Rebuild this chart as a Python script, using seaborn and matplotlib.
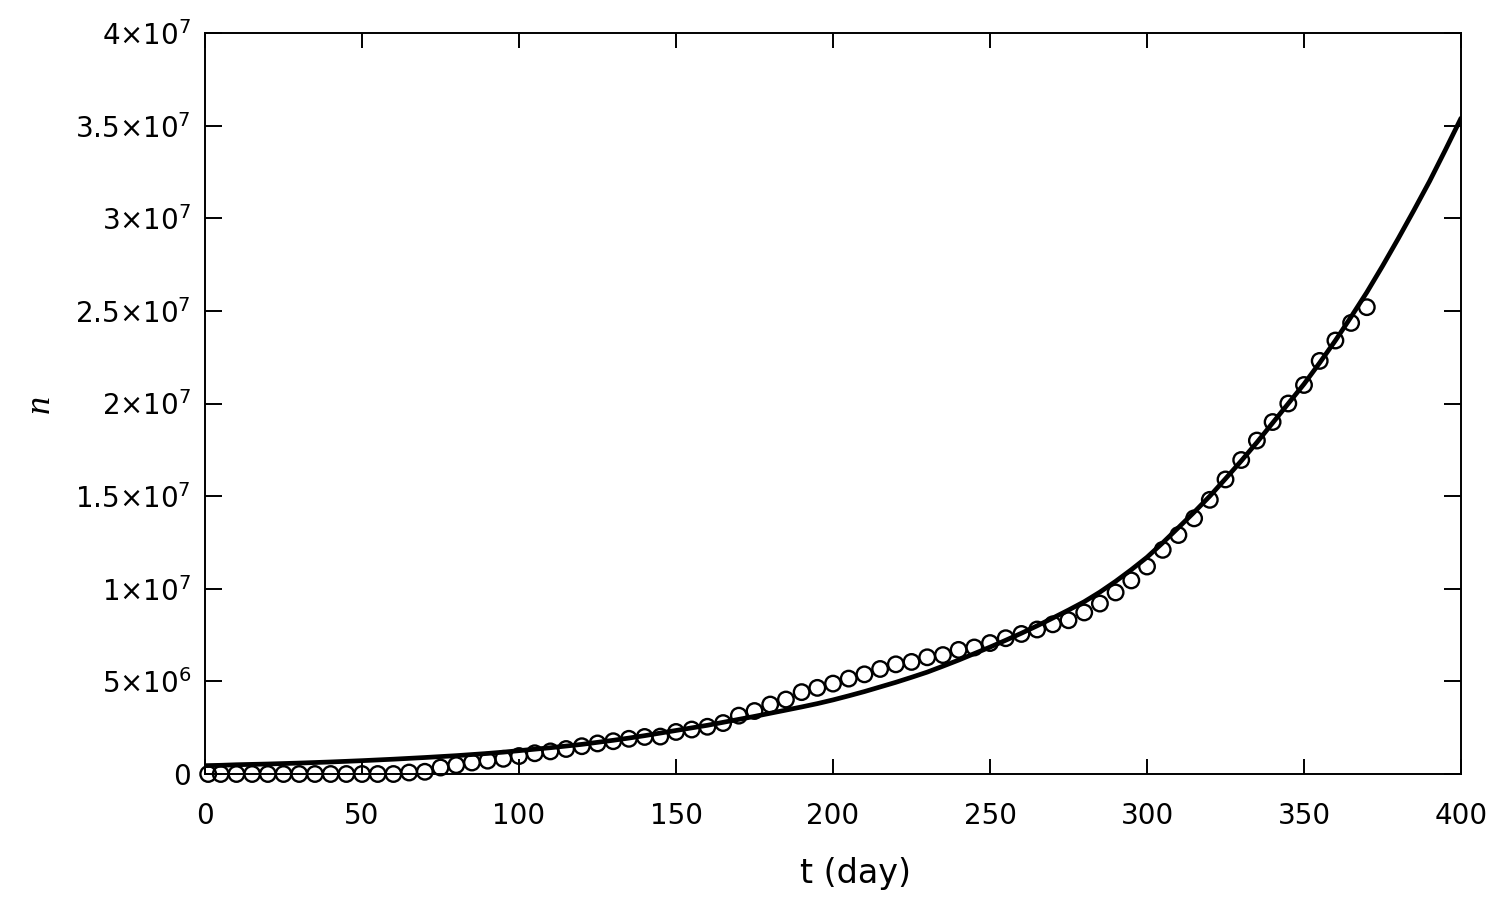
import numpy as np
import pandas as pd
import matplotlib
matplotlib.use('Agg')
import matplotlib.pyplot as plt
import seaborn as sns

obs_days = [1, 5, 10, 15, 20, 25, 30, 35, 40, 45, 50, 55, 60, 65, 70, 75, 80, 85, 90, 95,
            100, 105, 110, 115, 120, 125, 130, 135, 140, 145, 150, 155, 160, 165, 170, 175,
            180, 185, 190, 195, 200, 205, 210, 215, 220, 225, 230, 235, 240, 245, 250, 255,
            260, 265, 270, 275, 280, 285, 290, 295, 300, 305, 310, 315, 320, 325, 330, 335,
            340, 345, 350, 355, 360, 365, 370]
obs_n = [0, 0, 0, 0, 0, 0, 0, 0, 0, 0, 0, 0, 0.0, 0.08, 0.12, 0.35, 0.48, 0.62, 0.72, 0.82,
         0.97, 1.12, 1.22, 1.35, 1.5, 1.65, 1.77, 1.9, 2.0, 2.02, 2.27, 2.4, 2.55, 2.75, 3.15, 3.4,
         3.75, 4.02, 4.42, 4.65, 4.88, 5.15, 5.38, 5.67, 5.92, 6.05, 6.3, 6.42, 6.7, 6.83, 7.07, 7.33,
         7.56, 7.8, 8.08, 8.3, 8.72, 9.2, 9.8, 10.45, 11.2, 12.1, 12.9, 13.8, 14.8, 15.9, 16.95, 18.0,
         19.0, 20.0, 21.0, 22.3, 23.4, 24.35, 25.2]

# fitted curve (millions), every 5 days
fit_days = list(range(0, 401, 5))
fit_n = [0.45, 0.47, 0.5, 0.52, 0.54, 0.565, 0.59, 0.62, 0.65, 0.685,
         0.72, 0.76, 0.8, 0.845, 0.89, 0.94, 0.99, 1.05, 1.11, 1.18,
         1.26, 1.34, 1.42, 1.51, 1.6, 1.71, 1.82, 1.94, 2.07, 2.21,
         2.35, 2.49, 2.63, 2.79, 2.95, 3.11, 3.28, 3.45, 3.62, 3.8,
         4.0, 4.22, 4.45, 4.7, 4.95, 5.22, 5.5, 5.82, 6.15, 6.5,
         6.85, 7.22, 7.6, 8.0, 8.42, 8.85, 9.3, 9.82, 10.4, 11.03,
         11.7, 12.48, 13.3, 14.13, 15.0, 15.94, 16.9, 17.9, 18.95, 20.0,
         21.05, 22.2, 23.4, 24.68, 26.0, 27.42, 28.9, 30.43, 32.0, 33.68,
         35.4]

x_ticks = [0, 50, 100, 150, 200, 250, 300, 350, 400]
y_ticks = [0, 5e6, 1e7, 1.5e7, 2e7, 2.5e7, 3e7, 3.5e7, 4e7]
y_tick_labels = ['0', '5\u00d710$^{6}$', '1\u00d710$^{7}$', '1.5\u00d710$^{7}$', '2\u00d710$^{7}$',
                 '2.5\u00d710$^{7}$', '3\u00d710$^{7}$', '3.5\u00d710$^{7}$', '4\u00d710$^{7}$']

obs = pd.DataFrame({'t': obs_days, 'n': np.array(obs_n) * 1e6})
fit = pd.DataFrame({'t': fit_days, 'n': np.array(fit_n) * 1e6})

sns.set_style('ticks')
plt.rcParams['font.family'] = ['DejaVu Sans']
plt.rcParams['mathtext.fontset'] = 'dejavusans'

fig, ax = plt.subplots(figsize=(15, 9.02), dpi=100)
fig.subplots_adjust(left=0.1367, right=0.974, bottom=0.1419, top=0.9634)

sns.lineplot(data=fit, x='t', y='n', color='black', linewidth=3.4, ax=ax, zorder=2)
sns.scatterplot(data=obs, x='t', y='n', marker='o', s=125, facecolors='none',
                edgecolor='black', linewidth=1.7, ax=ax, zorder=3, clip_on=False)

ax.set_xlim(0, 400)
ax.set_ylim(0, 4e7)
ax.set_xticks(x_ticks)
ax.set_xticklabels([str(v) for v in x_ticks])
ax.set_yticks(y_ticks)
ax.set_yticklabels(y_tick_labels)

for s in ax.spines.values():
    s.set_visible(True)
    s.set_linewidth(1.4)
    s.set_color('black')

ax.tick_params(axis='x', direction='in', length=11, width=1.4, top=True, pad=20,
               labelsize=20, colors='black')
ax.tick_params(axis='y', direction='in', length=12, width=1.4, right=True, pad=10,
               labelsize=20, colors='black')

ax.set_xlabel('t (day)', fontsize=24, color='black')
ax.set_ylabel('n', fontsize=26, family='Liberation Serif', style='italic', color='black')
ax.xaxis.set_label_coords(0.5175, -0.112)
ax.yaxis.set_label_coords(-0.118, 0.5)

fig.savefig('out.png', dpi=100)
